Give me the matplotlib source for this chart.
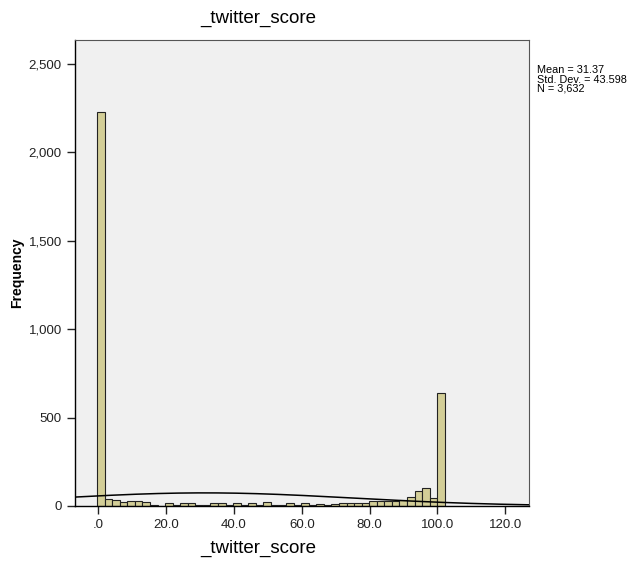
import numpy as np
import matplotlib
matplotlib.use("Agg")
import matplotlib.pyplot as plt

plt.rcParams['font.family'] = ['Liberation Sans', 'DejaVu Sans']

# histogram bins, bin width ~2.23, first edge ~ -0.4
bin_start = -0.4
bin_width = 2.23
counts = [2230, 42, 33, 23, 27, 27, 20, 3, 0, 18,
          3, 15, 15, 5, 3, 15, 15, 3, 15, 8,
          15, 5, 22, 3, 3, 15, 3, 15, 3, 12,
          3, 12, 15, 15, 15, 15, 30, 30, 28, 26,
          32, 52, 82, 100, 48, 640]

mean_val = 31.37
std_val = 43.598
n_val = 3632

x_ticks = [0, 20, 40, 60, 80, 100, 120]
x_tick_labels = ['.0', '20.0', '40.0', '60.0', '80.0', '100.0', '120.0']
y_ticks = [0, 500, 1000, 1500, 2000, 2500]
y_tick_labels = ['0', '500', '1,000', '1,500', '2,000', '2,500']

fig = plt.figure(figsize=(6.43, 5.67), dpi=100)
ax = fig.add_axes([0.1166, 0.1076, 0.7061, 0.822])
ax.set_facecolor('#f0f0f0')

lefts = bin_start + bin_width * np.arange(len(counts))
ax.bar(lefts, counts, width=bin_width, align='edge', color='#d3ce97',
       edgecolor='#222222', linewidth=0.8, zorder=2)

# fitted normal curve
xs = np.linspace(-7, 127, 400)
pdf = np.exp(-0.5 * ((xs - mean_val) / std_val) ** 2) / (std_val * np.sqrt(2 * np.pi))
ax.plot(xs, pdf * n_val * bin_width, color='black', linewidth=1.1, zorder=3)

ax.set_xlim(-6.9, 127)
ax.set_ylim(0, 2635)
ax.set_xticks(x_ticks)
ax.set_xticklabels(x_tick_labels)
ax.set_yticks(y_ticks)
ax.set_yticklabels(y_tick_labels)
ax.tick_params(direction='out', length=6, width=1, labelsize=9.5, colors='#222222')

for side in ['left', 'bottom']:
    ax.spines[side].set_color('black')
    ax.spines[side].set_linewidth(1)
for side in ['top', 'right']:
    ax.spines[side].set_color('#555555')
    ax.spines[side].set_linewidth(0.8)

# SPSS centres title and axis title away from the plot centre
fig.text(0.401, 0.968, '_twitter_score', fontsize=13.5, ha='center', va='center')
fig.text(0.401, 0.032, '_twitter_score', fontsize=13.5, ha='center', va='center')
ax.set_ylabel('Frequency', fontsize=10, fontweight='bold')
ax.yaxis.set_label_coords(-0.113, 0.5)

fig.text(0.835, 0.885, 'Mean = 31.37\nStd. Dev. = 43.598\nN = 3,632',
         fontsize=7.8, va='top', ha='left', linespacing=0.92)

plt.savefig('out.png', dpi=100)
